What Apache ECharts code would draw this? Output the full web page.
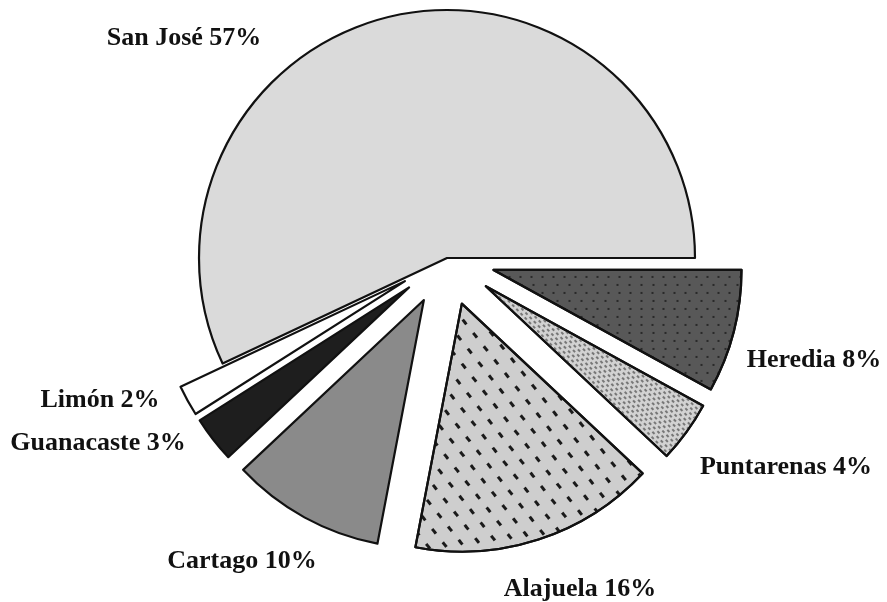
<!DOCTYPE html>
<html>
<head>
<meta charset="utf-8">
<script src="https://cdn.jsdelivr.net/npm/echarts@6/dist/echarts.min.js"></script>
<style>
  html, body { margin: 0; padding: 0; background: #fff; }
  #main { width: 887px; height: 602px; }
</style>
</head>
<body>
<div id="main"></div>
<script>
// data, counter-clockwise from 3 o'clock
const regions = ["San José", "Limón", "Guanacaste", "Cartago", "Alajuela", "Puntarenas", "Heredia"];
const shares = [57, 2, 3, 10, 16, 4, 8];

// label centres (px), same order as regions
const labelPos = [
  [184, 38], [100, 400], [98, 443], [242, 561], [580, 589], [786, 467], [814, 360]
];

// fills
const fills = ["#dadada", "#ffffff", "#1e1e1e", "#8a8a8a", "#cecece", "#d2d2d2", "#585858"];
const decals = [
  null,
  null,
  null,
  null,
  { symbol: "rect", symbolSize: 1, color: "#1a1a1a", dashArrayX: [[6, 11], [0, 9, 6, 2]], dashArrayY: [3, 11], rotation: 0.9 },
  { symbol: "rect", symbolSize: 1, color: "#777", dashArrayX: [[3, 3], [0, 3, 3, 0]], dashArrayY: [1.5, 2], rotation: 0.8 },
  { symbol: "circle", symbolSize: 1, color: "#1a1a1a", dashArrayX: [[2, 9], [0, 5.5, 2, 3.5]], dashArrayY: [2, 6], rotation: 0 }
];

const chart = echarts.init(document.getElementById("main"), null, { renderer: "canvas" });

let pieData = [];
let labels = [];
for (let i = 0; i < regions.length; i++) {
  let item = {
    name: regions[i],
    value: shares[i],
    selected: i > 0,
    itemStyle: { color: fills[i] }
  };
  if (decals[i]) {
    item.itemStyle.decal = decals[i];
  }
  pieData.push(item);

  labels.push({
    type: "text",
    x: labelPos[i][0],
    y: labelPos[i][1],
    silent: true,
    style: {
      text: regions[i] + " " + shares[i] + "%",
      textAlign: "center",
      textVerticalAlign: "middle",
      fontFamily: "Liberation Serif",
      fontWeight: "bold",
      fontSize: 26,
      fill: "#111"
    }
  });
}

const option = {
  animation: false,
  backgroundColor: "#ffffff",
  graphic: labels,
  series: [
    {
      type: "pie",
      center: [447, 258],
      radius: 248,
      startAngle: 0,
      clockwise: false,
      selectedMode: "multiple",
      selectedOffset: 48,
      itemStyle: {
        borderColor: "#111",
        borderWidth: 2.2
      },
      label: { show: false },
      labelLine: { show: false },
      emphasis: { disabled: true },
      data: pieData
    }
  ]
};
chart.setOption(option);
</script>
</body>
</html>
